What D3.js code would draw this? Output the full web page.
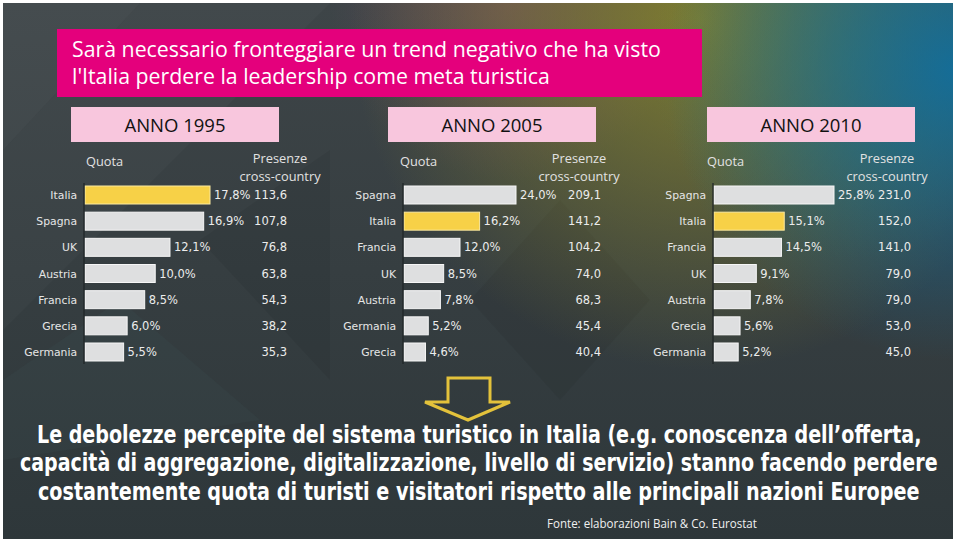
<!DOCTYPE html>
<html><head><meta charset="utf-8">
<script src="https://cdn.jsdelivr.net/npm/d3@7/dist/d3.min.js"></script>
<style>html,body{margin:0;padding:0;background:#fff;}svg{display:block;}</style>
</head><body>
<svg id="chart" width="959" height="545"></svg>
<script>
// ---------- data ----------
const titleLines = ["Sarà necessario fronteggiare un trend negativo che ha visto", "l'Italia perdere la leadership come meta turistica"];
const years = ["ANNO 1995", "ANNO 2005", "ANNO 2010"];
const countries1995 = ["Italia","Spagna","UK","Austria","Francia","Grecia","Germania"];
const quota1995 = [17.8,16.9,12.1,10.0,8.5,6.0,5.5];
const presenze1995 = [113.6,107.8,76.8,63.8,54.3,38.2,35.3];
const countries2005 = ["Spagna","Italia","Francia","UK","Austria","Germania","Grecia"];
const quota2005 = [24.0,16.2,12.0,8.5,7.8,5.2,4.6];
const presenze2005 = [209.1,141.2,104.2,74.0,68.3,45.4,40.4];
const countries2010 = ["Spagna","Italia","Francia","UK","Austria","Grecia","Germania"];
const quota2010 = [25.8,15.1,14.5,9.1,7.8,5.6,5.2];
const presenze2010 = [231.0,152.0,141.0,79.0,79.0,53.0,45.0];
const headerQuota = "Quota";
const headerPresenze = ["Presenze", "cross-country"];
const bottomLines = [
  "Le debolezze percepite del sistema turistico in Italia (e.g. conoscenza dell’offerta,",
  "capacità di aggregazione, digitalizzazione, livello di servizio) stanno facendo perdere",
  "costantemente quota di turisti e visitatori rispetto alle principali nazioni Europee"
];
const sourceText = "Fonte: elaborazioni Bain & Co. Eurostat";
const highlight = "Italia";

// ---------- layout ----------
const svg = d3.select("#chart");
const defs = svg.append("defs");
const fmt = v => d3.format(".1f")(v).replace(".", ",");

function radial(id, cx, cy, r, color, op) {
  const g = defs.append("radialGradient").attr("id", id).attr("gradientUnits", "userSpaceOnUse")
    .attr("cx", cx).attr("cy", cy).attr("r", r);
  g.append("stop").attr("offset", "0%").attr("stop-color", color).attr("stop-opacity", op);
  g.append("stop").attr("offset", "100%").attr("stop-color", color).attr("stop-opacity", 0);
}
radial("gOlive", 700, 20, 350, "#8f8a2a", 0.8);
radial("gPurple", 510, 0, 180, "#8a4a72", 0.45);
radial("gBlue", 955, 70, 290, "#0f6fa0", 0.9);
radial("gTeal", 850, 60, 200, "#3c8060", 0.35);
const lg = defs.append("linearGradient").attr("id", "gBase").attr("x1", 0).attr("y1", 0).attr("x2", 0).attr("y2", 1);
lg.append("stop").attr("offset", "0%").attr("stop-color", "#3e4548");
lg.append("stop").attr("offset", "100%").attr("stop-color", "#2e373a");

const bg = svg.append("g");
bg.append("rect").attr("x", 3).attr("y", 3).attr("width", 950).attr("height", 536).attr("fill", "url(#gBase)");
bg.append("polygon").attr("points", "3,3 140,3 3,150").attr("fill", "#ffffff").attr("opacity", 0.04);
bg.append("polygon").attr("points", "140,3 330,3 3,330 3,150").attr("fill", "#ffffff").attr("opacity", 0.025);
bg.append("polygon").attr("points", "200,240 330,150 330,380").attr("fill", "#000000").attr("opacity", 0.06);
bg.append("polygon").attr("points", "470,300 560,200 650,300 560,400").attr("fill", "#000000").attr("opacity", 0.05);
bg.append("polygon").attr("points", "3,380 120,300 260,420 3,460").attr("fill", "#5a8a8a").attr("opacity", 0.06);
["gPurple","gOlive","gTeal","gBlue"].forEach(id =>
  bg.append("rect").attr("x", 3).attr("y", 3).attr("width", 950).attr("height", 536).attr("fill", `url(#${id})`));

// title box
svg.append("rect").attr("x", 57).attr("y", 29).attr("width", 645).attr("height", 68).attr("fill", "#e4007c");
svg.append("g").selectAll("text").data(titleLines).join("text")
  .attr("x", 72).attr("y", (d, i) => 57 + i * 27)
  .attr("font-family", "Open Sans").attr("font-size", 21.3).attr("font-weight", 500)
  .attr("fill", "#ffffff").text(d => d);

// panels
const panels = [
  {year: years[0], countries: countries1995, quota: quota1995, presenze: presenze1995,
   boxX: 71, boxW: 208, axisX: 84, maxW: 125, presRight: 287, quotaX: 86, presCx: 280},
  {year: years[1], countries: countries2005, quota: quota2005, presenze: presenze2005,
   boxX: 388, boxW: 208, axisX: 403, maxW: 112, presRight: 601, quotaX: 400, presCx: 579},
  {year: years[2], countries: countries2010, quota: quota2010, presenze: presenze2010,
   boxX: 707, boxW: 208, axisX: 713, maxW: 120, presRight: 911, quotaX: 707, presCx: 887}
];

const labelFont = "DejaVu Sans";
panels.forEach(p => {
  const g = svg.append("g");
  g.append("rect").attr("x", p.boxX).attr("y", 107).attr("width", p.boxW).attr("height", 35).attr("fill", "#f8c6dd");
  g.append("text").attr("x", p.boxX + p.boxW / 2).attr("y", 132).attr("text-anchor", "middle")
    .attr("font-family", "Open Sans").attr("font-size", 18.5).attr("fill", "#111").text(p.year);
  g.append("text").attr("x", p.quotaX).attr("y", 166).attr("font-family", "Open Sans").attr("font-size", 12.8)
    .attr("fill", "#e2e2e2").text(headerQuota);
  g.selectAll("text.ph").data(headerPresenze).join("text").attr("class", "ph")
    .attr("x", p.presCx).attr("y", (d, i) => 163 + i * 17.5).attr("text-anchor", "middle")
    .attr("font-family", "Open Sans").attr("font-size", 12.8).attr("fill", "#e2e2e2").text(d => d);

  const data = p.countries.map((c, i) => ({c, q: p.quota[i], v: p.presenze[i]}));
  const y = d3.scalePoint().domain(p.countries).range([195, 352]);
  const x = d3.scaleLinear().domain([0, d3.max(p.quota)]).range([p.axisX + 1, p.axisX + 1 + p.maxW]);
  const bh = 18;

  g.selectAll("rect.bar").data(data).join("rect").attr("class", "bar")
    .attr("x", x(0)).attr("y", d => y(d.c) - bh / 2)
    .attr("width", d => x(d.q) - x(0)).attr("height", bh)
    .attr("fill", d => d.c === highlight ? "#f7d147" : "#dedfe0")
    .attr("stroke", d => d.c === highlight ? "#fbe9a0" : "#f6f6f6").attr("stroke-width", 1);

  g.append("line").attr("x1", p.axisX).attr("x2", p.axisX).attr("y1", 183).attr("y2", 364)
    .attr("stroke", "#1e2426").attr("stroke-width", 1.2);

  g.selectAll("text.cl").data(data).join("text").attr("class", "cl")
    .attr("x", p.axisX - 7).attr("y", d => y(d.c) + 4).attr("text-anchor", "end")
    .attr("font-family", labelFont).attr("font-size", 10.8).attr("fill", "#e6e6e6").text(d => d.c);
  g.selectAll("text.pl").data(data).join("text").attr("class", "pl")
    .attr("x", d => x(d.q) + 4).attr("y", d => y(d.c) + 4)
    .attr("font-family", labelFont).attr("font-size", 11.5).attr("fill", "#ececec").text(d => fmt(d.q) + "%");
  g.selectAll("text.vl").data(data).join("text").attr("class", "vl")
    .attr("x", p.presRight).attr("y", d => y(d.c) + 4).attr("text-anchor", "end")
    .attr("font-family", labelFont).attr("font-size", 11.5).attr("fill", "#ececec").text(d => fmt(d.v));
});

// arrow
svg.append("path").attr("d", "M448,378 L490,378 L490,402 L510,402 L468,420 L425,402 L448,402 Z")
  .attr("fill", "none").attr("stroke", "#e3c23b").attr("stroke-width", 3).attr("stroke-linejoin", "miter");

// text fitted to a width by horizontal scaling (keeps real text, bbox stays accurate)
function fitted(sel, txt, x1, x2, y, font, size, weight) {
  const t = sel.append("text").attr("x", 0).attr("y", 0)
    .attr("font-family", font).attr("font-size", size).attr("font-weight", weight)
    .attr("fill", "#ffffff").text(txt);
  const nat = t.node().getComputedTextLength();
  const sx = (x2 - x1) / nat;
  t.attr("transform", `translate(${x1},${y}) scale(${sx},1)`);
  return t;
}
const bottomGeom = [{x1: 37, x2: 922, y: 443}, {x1: 20, x2: 938, y: 471}, {x1: 38, x2: 920, y: 500}];
const bt = svg.append("g");
bottomLines.forEach((line, i) =>
  fitted(bt, line, bottomGeom[i].x1, bottomGeom[i].x2, bottomGeom[i].y,
    "'Liberation Sans Narrow', 'DejaVu Sans Condensed', 'Open Sans'", 24, 700));
fitted(svg, sourceText, 547, 757, 528, "'Liberation Sans Narrow', 'Open Sans'", 13, 400).attr("fill", "#f0f0f0");
</script>
</body></html>
